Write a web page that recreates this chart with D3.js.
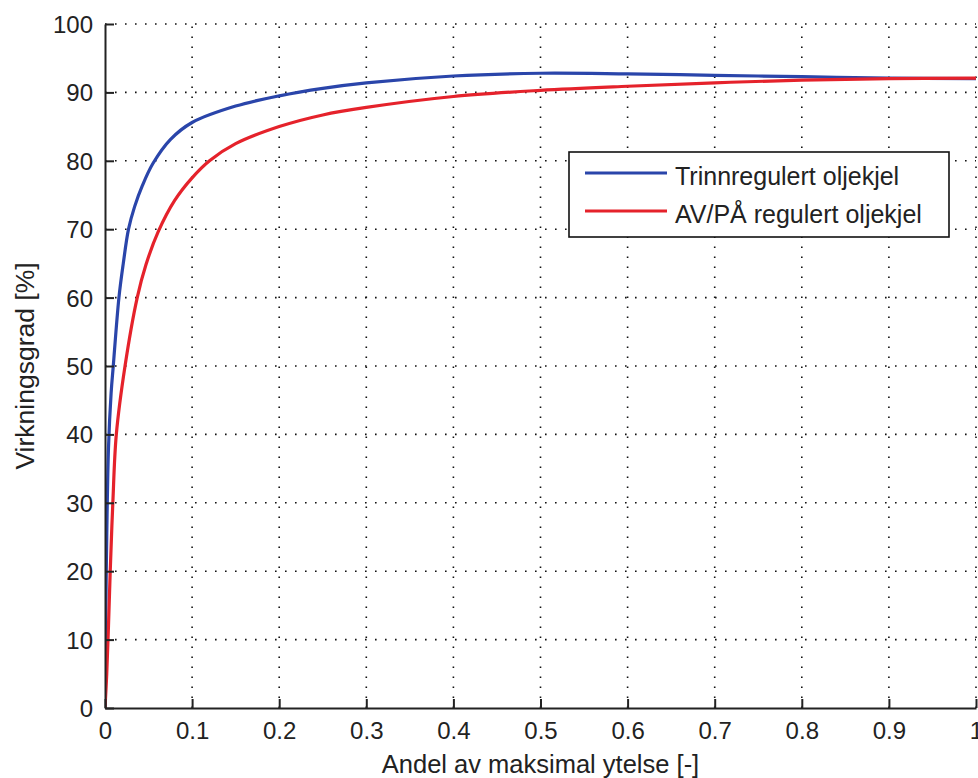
<!DOCTYPE html>
<html>
<head>
<meta charset="utf-8">
<script src="https://cdn.jsdelivr.net/npm/d3@7"></script>
<style>
  html, body { margin: 0; padding: 0; background: #fff; }
  text { font-family: "Liberation Sans", Arial, sans-serif; fill: #222; }
</style>
</head>
<body>
<svg id="chart" width="978" height="778"></svg>
<script>
// ---- data ----
const xTicks = [0, 0.1, 0.2, 0.3, 0.4, 0.5, 0.6, 0.7, 0.8, 0.9, 1];
const yTicks = [0, 10, 20, 30, 40, 50, 60, 70, 80, 90, 100];
const xTickLabels = ["0", "0.1", "0.2", "0.3", "0.4", "0.5", "0.6", "0.7", "0.8", "0.9", "1"];

const seriesNames = ["Trinnregulert oljekjel", "AV/PÅ regulert oljekjel"];
const seriesColors = ["#2a45aa", "#e5222b"];

const trinnX = [0, 0.001, 0.002, 0.004, 0.007, 0.0095, 0.016, 0.021, 0.027, 0.034, 0.043, 0.055, 0.075, 0.1, 0.15, 0.2, 0.25, 0.3, 0.4, 0.5, 0.6, 0.7, 0.8, 0.9, 1.0];
const trinnY = [0, 15, 25, 38, 46, 50, 60, 65, 70, 73.3, 76.4, 79.6, 83.1, 85.6, 88, 89.5, 90.6, 91.4, 92.4, 92.8, 92.7, 92.5, 92.3, 92.1, 92.0];

const avpaX = [0, 0.002, 0.004, 0.006, 0.009, 0.013, 0.023, 0.037, 0.047, 0.061, 0.08, 0.1, 0.12, 0.15, 0.2, 0.25, 0.3, 0.4, 0.5, 0.6, 0.7, 0.8, 0.9, 1.0];
const avpaY = [0, 5, 12, 20, 30, 40, 50, 60, 64.8, 69.6, 74.2, 77.5, 80, 82.5, 85, 86.7, 87.8, 89.4, 90.3, 90.9, 91.4, 91.8, 92.0, 92.1];

const xLabel = "Andel av maksimal ytelse [-]";
const yLabel = "Virkningsgrad [%]";

// ---- layout ----
const svg = d3.select("#chart");
const mLeft = 105, mRight = 976, mTop = 24, mBottom = 708;
const x = d3.scaleLinear().domain([0, 1]).range([mLeft, mRight]);
const y = d3.scaleLinear().domain([0, 100]).range([mBottom, mTop]);

// grid
const grid = svg.append("g");
grid.selectAll("line.vg").data(xTicks.filter(d => d > 0)).enter().append("line")
  .attr("x1", d => x(d)).attr("x2", d => x(d)).attr("y1", mBottom).attr("y2", mTop)
  .attr("stroke", "#111").attr("stroke-width", 1.6).attr("stroke-dasharray", "1.6,8.4");
grid.selectAll("line.hg").data(yTicks.filter(d => d > 0)).enter().append("line")
  .attr("y1", d => y(d)).attr("y2", d => y(d)).attr("x1", mLeft).attr("x2", mRight)
  .attr("stroke", "#111").attr("stroke-width", 1.6).attr("stroke-dasharray", "1.6,8.4");

// curves
svg.append("defs").append("clipPath").attr("id", "clip")
  .append("rect").attr("x", mLeft).attr("y", mTop - 2).attr("width", mRight - mLeft + 2).attr("height", mBottom - mTop + 2);

const line = d3.line().x(d => x(d[0])).y(d => y(d[1])).curve(d3.curveCatmullRom.alpha(0.5));
const series = [
  d3.zip(trinnX, trinnY),
  d3.zip(avpaX, avpaY)
];
const plot = svg.append("g").attr("clip-path", "url(#clip)");
series.forEach((s, i) => {
  plot.append("path").datum(s).attr("d", line)
    .attr("fill", "none").attr("stroke", seriesColors[i]).attr("stroke-width", 3.2).attr("stroke-linejoin", "round");
});

// axes
const xAxis = d3.axisBottom(x).tickValues(xTicks).tickFormat((d, i) => xTickLabels[i]).tickSizeInner(-9).tickSizeOuter(0).tickPadding(14);
const yAxis = d3.axisLeft(y).tickValues(yTicks).tickFormat(d3.format("d")).tickSizeInner(-9).tickSizeOuter(0).tickPadding(13);

const gx = svg.append("g").attr("transform", `translate(0,${mBottom})`).call(xAxis);
const gy = svg.append("g").attr("transform", `translate(${mLeft},0)`).call(yAxis);
[gx, gy].forEach(g => {
  g.select(".domain").attr("stroke", "#222").attr("stroke-width", 2);
  g.selectAll(".tick line").attr("stroke", "#222").attr("stroke-width", 2);
  g.selectAll(".tick text").attr("font-size", 24).attr("fill", "#222")
   .style("font-family", "'Liberation Sans', Arial, sans-serif");
});
gx.selectAll(".tick text").attr("dy", "0.71em").attr("y", 14);
gy.selectAll(".tick text").attr("x", -12).attr("dy", "0.35em");

// axis labels
svg.append("text").attr("x", (mLeft + mRight) / 2).attr("y", 773)
  .attr("text-anchor", "middle").attr("font-size", 25.5).text(xLabel);
svg.append("text").attr("transform", `translate(34,${(mTop + mBottom) / 2}) rotate(-90)`)
  .attr("text-anchor", "middle").attr("font-size", 26.5).text(yLabel);

// legend
const lg = svg.append("g");
lg.append("rect").attr("x", 569).attr("y", 152).attr("width", 380).attr("height", 85)
  .attr("fill", "#fff").attr("stroke", "#111").attr("stroke-width", 1.6);
const lgY = [173, 211];
seriesNames.forEach((name, i) => {
  lg.append("line").attr("x1", 585).attr("x2", 667).attr("y1", lgY[i]).attr("y2", lgY[i])
    .attr("stroke", seriesColors[i]).attr("stroke-width", 3.2);
  lg.append("text").attr("x", 675).attr("y", lgY[i] + 12).attr("font-size", 25).text(name);
});
</script>
</body>
</html>
